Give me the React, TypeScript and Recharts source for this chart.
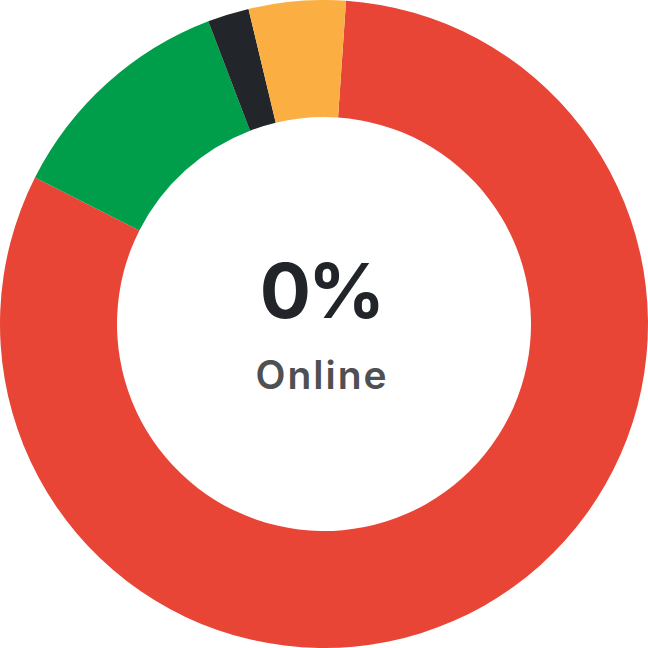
import React from 'react';
import { PieChart, Pie, Cell } from 'recharts';

const statuses = ['Offline', 'Online', 'Unknown', 'Warning'];
const counts = [118, 17, 3, 7];
const colors = ['#E94536', '#009E4A', '#22262A', '#FBAF42'];

const data = statuses.map((name, i) => ({ name, value: counts[i] }));

const App = () => {
    return (
        <div style={{ position: 'absolute', left: 0, top: 0, width: 648, height: 648, background: '#fff' }}>
            <PieChart width={648} height={648} margin={{ top: 0, right: 0, bottom: 0, left: 0 }}>
                <Pie
                    data={data}
                    dataKey="value"
                    cx={324}
                    cy={324}
                    innerRadius={207}
                    outerRadius={324}
                    startAngle={86.1}
                    endAngle={-273.9}
                    paddingAngle={0}
                    stroke="none"
                    isAnimationActive={false}
                >
                    {data.map((d, i) => (
                        <Cell key={d.name} fill={colors[i]} />
                    ))}
                </Pie>
            </PieChart>

            <svg width={648} height={648} style={{ position: 'absolute', left: 0, top: 0, pointerEvents: 'none' }}>
                <text x={321} y={318} textAnchor="middle" fontFamily="Inter, sans-serif" fontWeight={700} fontSize={76} letterSpacing={-3} fill="#212529">
                    0%
                </text>
                <text x={322} y={389} textAnchor="middle" fontFamily="Inter, sans-serif" fontWeight={600} fontSize={39} letterSpacing={2} fill="#4F5052">
                    Online
                </text>
            </svg>
        </div>
    );
};

export default App;
